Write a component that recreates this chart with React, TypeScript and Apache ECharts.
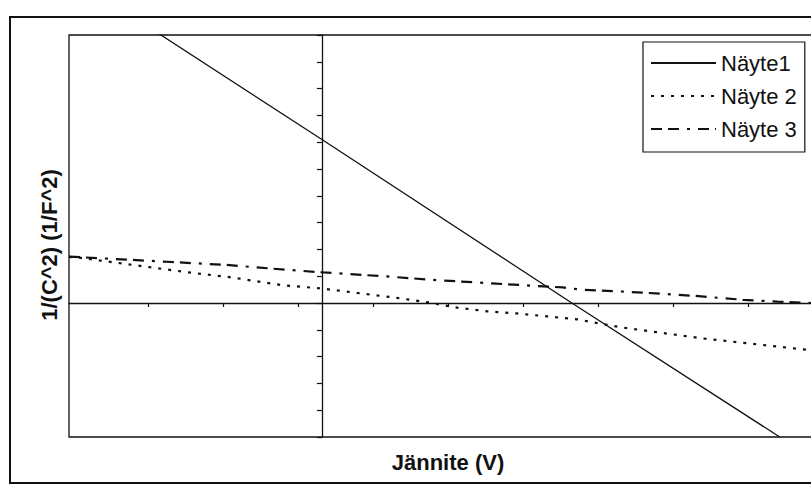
import React, { useEffect, useRef } from "react";
import * as echarts from "echarts";

// Axis ranges (x: tick-spacing units, y: tick units)
const xRange = [-3.37, 6.65];
const yRange = [-5, 10];
const xTickValues = [-2.32, -1.32, -0.32, 0.68, 1.68, 2.68, 3.68, 4.68, 5.68];

const seriesNames = ["Näyte1", "Näyte 2", "Näyte 3"];

const nayte1: [number, number][] = [
  [-2.2, 10.1],
  [0, 6.1],
  [3.33, 0],
  [6.1, -5],
];

const nayte2: [number, number][] = [
  [-3.37, 1.72],
  [-3.23, 1.69],
  [-2.52, 1.42],
  [-1.8, 1.15],
  [-1.19, 0.95],
  [-0.52, 0.66],
  [-0.03, 0.55],
  [0.6, 0.33],
  [1.0, 0.19],
  [1.4, 0.03],
  [1.8, -0.17],
  [2.2, -0.31],
  [2.6, -0.39],
  [3.0, -0.5],
  [3.4, -0.61],
  [3.97, -0.9],
  [5.04, -1.31],
  [6.51, -1.76],
  [6.65, -1.8],
];

const nayte3: [number, number][] = [
  [-3.37, 1.73],
  [-2.07, 1.54],
  [-1.27, 1.42],
  [-0.65, 1.28],
  [-0.03, 1.15],
  [0.81, 1.0],
  [1.44, 0.87],
  [2.33, 0.72],
  [3.21, 0.58],
  [3.45, 0.5],
  [4.2, 0.4],
  [4.95, 0.27],
  [5.61, 0.12],
  [6.07, 0.05],
  [6.51, 0.0],
  [6.65, -0.02],
];

const xTitle = "Jännite (V)";
const yTitle = "1/(C^2) (1/F^2)";

const FONT = "'Liberation Sans', Arial, sans-serif";

export default function App() {
  const ref = useRef<HTMLDivElement>(null);
  useEffect(() => {
    if (!ref.current) return;
    const chart = echarts.init(ref.current, undefined, { renderer: "svg" });
    chart.setOption({
      animation: false,
      backgroundColor: "#ffffff",
      grid: {
        left: 69,
        top: 35,
        right: -10,
        bottom: 51,
        show: true,
        borderColor: "#111",
        borderWidth: 1.3,
        backgroundColor: "transparent",
        containLabel: false,
        outerBoundsMode: "none",
      },
      xAxis: {
        type: "value",
        min: xRange[0],
        max: xRange[1],
        axisLine: { onZero: true, lineStyle: { color: "#111", width: 1.3 } },
        axisTick: {
          show: true,
          inside: false,
          length: 4,
          customValues: xTickValues,
          lineStyle: { color: "#111", width: 1.2 },
        },
        axisLabel: { show: false },
        splitLine: { show: false },
      },
      yAxis: {
        type: "value",
        min: yRange[0],
        max: yRange[1],
        interval: 1,
        axisLine: { onZero: true, lineStyle: { color: "#111", width: 1.3 } },
        axisTick: {
          show: true,
          inside: false,
          length: 5,
          lineStyle: { color: "#111", width: 1.2 },
        },
        axisLabel: { show: false },
        splitLine: { show: false },
      },
      legend: {
        left: 643,
        top: 42,
        orient: "vertical",
        align: "left",
        itemWidth: 65,
        itemHeight: 14,
        itemGap: 11,
        padding: [10, 8, 12, 7],
        borderColor: "#111",
        borderWidth: 1.2,
        backgroundColor: "#fff",
        itemStyle: { opacity: 0 },
        textStyle: { color: "#111", fontSize: 22, fontFamily: FONT },
        data: seriesNames,
      },
      graphic: [
        {
          type: "rect",
          shape: { x: 10, y: 17, width: 830, height: 466 },
          style: { fill: "none", stroke: "#111", lineWidth: 2 },
          silent: true,
        },
        {
          type: "text",
          x: 448,
          y: 462,
          style: {
            text: xTitle,
            fill: "#111",
            font: `bold 22px ${FONT}`,
            align: "center",
            verticalAlign: "middle",
          },
        },
        {
          type: "text",
          x: 49,
          y: 245,
          rotation: Math.PI / 2,
          style: {
            text: yTitle,
            fill: "#111",
            font: `bold 22px ${FONT}`,
            align: "center",
            verticalAlign: "middle",
          },
        },
      ],
      series: [
        {
          name: seriesNames[0],
          type: "line",
          data: nayte1,
          symbol: "none",
          lineStyle: { color: "#111", width: 1.3, type: "solid" },
          itemStyle: { color: "#111" },
        },
        {
          name: seriesNames[1],
          type: "line",
          data: nayte2,
          symbol: "none",
          lineStyle: { color: "#111", width: 2.2, type: [3, 7] },
          itemStyle: { color: "#111" },
        },
        {
          name: seriesNames[2],
          type: "line",
          data: nayte3,
          symbol: "none",
          lineStyle: { color: "#111", width: 2.2, type: [11, 6, 11, 8, 3, 8] },
          itemStyle: { color: "#111" },
        },
      ],
    });
    return () => chart.dispose();
  }, []);
  return (
    <div
      ref={ref}
      style={{ position: "absolute", left: 0, top: 0, width: 811, height: 488 }}
    />
  );
}
